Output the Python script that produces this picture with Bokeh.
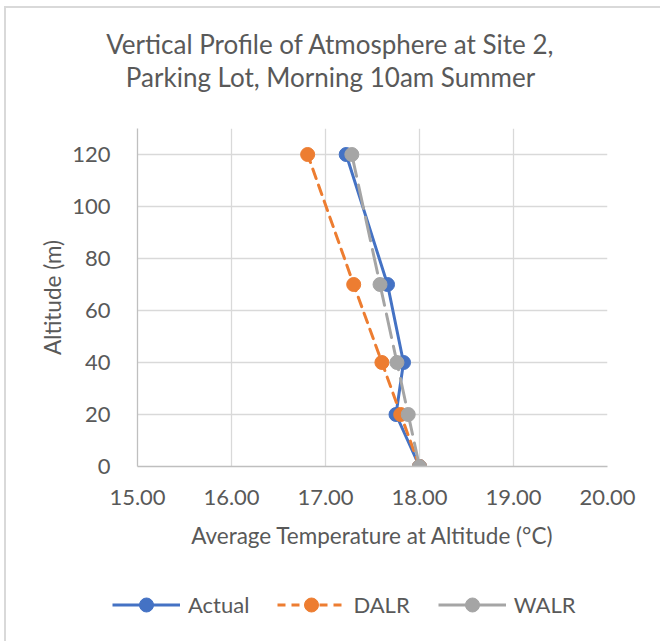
from bokeh.plotting import figure
from bokeh.layouts import column
from bokeh.models import (Legend, LegendItem, Label, ColumnDataSource,
                          FixedTicker, CustomJSTickFormatter)
from bokeh.embed import file_html
from bokeh.resources import INLINE

# Altitude levels (m) and temperatures (°C) per profile
altitude = [0, 20, 40, 70, 120]
actual = [18.00, 17.75, 17.83, 17.66, 17.22]
dalr = [18.00, 17.80, 17.60, 17.30, 16.81]
walr = [18.00, 17.88, 17.76, 17.58, 17.28]
series_names = ["Actual", "DALR", "WALR"]
x_ticks = [15, 16, 17, 18, 19, 20]
y_ticks = [0, 20, 40, 60, 80, 100, 120]
title_lines = ["Vertical Profile of Atmosphere at Site 2,",
               "Parking Lot, Morning 10am Summer"]

BLUE = "#4472C4"
ORANGE = "#ED7D31"
GREY = "#A5A5A5"
TEXT = "#595959"
FONT = "Lato"
W = 654

src = ColumnDataSource(dict(alt=altitude, actual=actual, dalr=dalr, walr=walr))
series = [("actual", BLUE, "solid", "solid"),
          ("dalr", ORANGE, "10 7", "8 6"),
          ("walr", GREY, "24 9", "solid")]


def blank(height):
    """A figure with no axes whose frame fills its whole canvas."""
    f = figure(width=W, height=height, output_backend="svg", toolbar_location=None,
               x_range=(0, 1), y_range=(0, 1), min_border=0,
               x_axis_type=None, y_axis_type=None)
    f.frame_align = False
    f.grid.visible = False
    f.outline_line_color = None
    return f


# ---- title block ----
head = blank(100)
for text, yy in zip(title_lines, [65, 32]):
    head.add_layout(Label(x=324, y=yy, x_units="screen", y_units="screen",
                          text=text, text_align="center", text_baseline="middle",
                          text_color=TEXT, text_font=FONT, text_font_size="26px"))

# ---- main chart ----
p = figure(width=W, height=462, output_backend="svg", toolbar_location=None,
           x_range=(15, 20), y_range=(0, 130),
           min_border_left=131, min_border_right=53,
           min_border_top=20, min_border_bottom=104)
p.frame_align = False
p.outline_line_color = None

p.xgrid.ticker = FixedTicker(ticks=x_ticks)
p.ygrid.ticker = FixedTicker(ticks=y_ticks)
p.grid.grid_line_color = "#D9D9D9"
p.grid.grid_line_width = 1.3

for ax in (p.xaxis[0], p.yaxis[0]):
    ax.axis_line_color = "#BFBFBF"
    ax.axis_line_width = 1.3
    ax.major_tick_line_color = None
    ax.minor_tick_line_color = None
    ax.major_label_text_color = TEXT
    ax.major_label_text_font = FONT
    ax.major_label_text_font_size = "22px"
    ax.axis_label_text_color = TEXT
    ax.axis_label_text_font = FONT
    ax.axis_label_text_font_size = "22.5px"
    ax.axis_label_text_font_style = "normal"

p.xaxis.ticker = FixedTicker(ticks=x_ticks)
p.yaxis.ticker = FixedTicker(ticks=y_ticks)
p.xaxis.formatter = CustomJSTickFormatter(code="return tick.toFixed(2);")
p.xaxis.axis_label = "Average Temperature at Altitude (°C)"
p.yaxis.axis_label = "Altitude (m)"
p.xaxis.major_label_standoff = 17
p.xaxis.axis_label_standoff = 14
p.yaxis.major_label_standoff = 21
p.yaxis.axis_label_standoff = 3

for col, color, dash, _ in series:
    kw = dict(line_dash=dash, line_cap="round") if dash != "solid" else {}
    p.line(col, "alt", source=src, line_color=color, line_width=3, **kw)
    p.scatter(col, "alt", source=src, size=14, fill_color=color, line_color=color)

# ---- legend block (its renderers lie outside this figure's view) ----
foot = blank(71)
items = []
for name, (col, color, _, legend_dash) in zip(series_names, series):
    ln = foot.line(col, "alt", source=src, line_color=color, line_width=3,
                   line_dash=legend_dash)
    mk = foot.scatter(col, "alt", source=src, size=14, fill_color=color, line_color=color)
    items.append(LegendItem(label=name, renderers=[ln, mk]))
legend = Legend(items=items, orientation="horizontal", location=(106, 19),
                glyph_width=68, glyph_height=35, label_height=35,
                label_standoff=8, spacing=28, padding=0, margin=0,
                border_line_color=None, background_fill_alpha=0,
                label_text_color=TEXT, label_text_font=FONT,
                label_text_font_size="22px")
foot.add_layout(legend, "center")

layout = column(head, p, foot, spacing=0)
layout.styles = {"margin-left": "4px", "margin-top": "6px",
                 "border-left": "2px solid #D9D9D9", "border-top": "2px solid #D9D9D9",
                 "border-right": "none", "outline": "none", "box-shadow": "none"}

open("out.html", "w").write(file_html(layout, INLINE))
